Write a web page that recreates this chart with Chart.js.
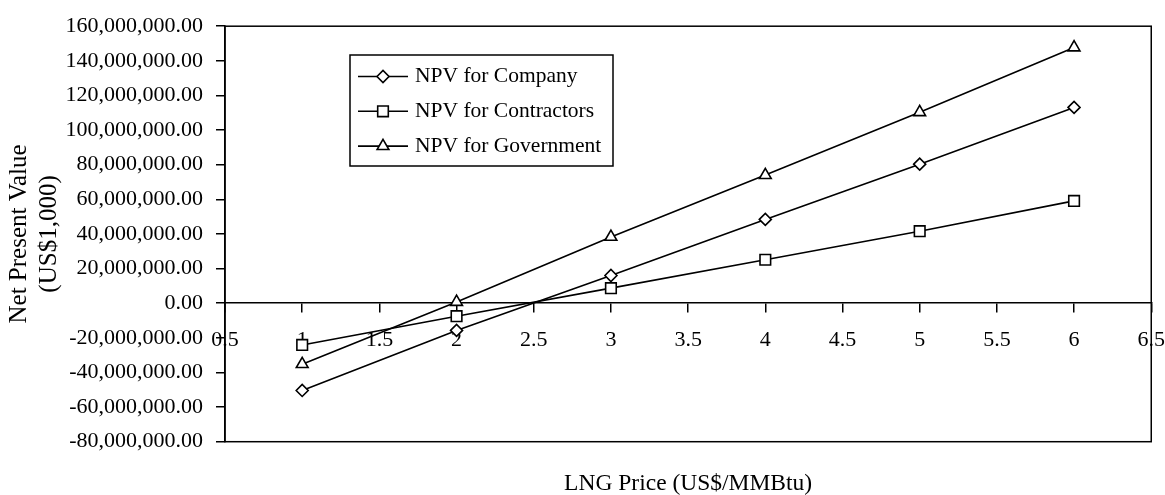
<!DOCTYPE html>
<html>
<head>
<meta charset="utf-8">
<title>Net Present Value vs LNG Price</title>
<script src="https://cdn.jsdelivr.net/npm/chart.js@4/dist/chart.umd.min.js"></script>
<style>
  html, body { margin: 0; padding: 0; background: #ffffff; }
  #wrap { width: 1165px; height: 495px; }
</style>
</head>
<body>
<div id="wrap"><canvas id="npvChart" width="1165" height="495"></canvas></div>
<script>
// LNG price points (US$/MMBtu)
const prices = [1, 2, 3, 4, 5, 6];

// Net present value for each party at each price
const npvCompany     = [-50400000, -15700000, 16000000, 48400000, 80300000, 113100000];
const npvContractors = [-24100000,  -7500000,  8700000, 25100000, 41600000,  59100000];
const npvGovernment  = [-35200000,    700000, 38300000, 74000000, 110300000, 147700000];

const seriesNames = ['NPV for Company', 'NPV for Contractors', 'NPV for Government'];

// Axis tick values
const priceTicks = [0.5, 1, 1.5, 2, 2.5, 3, 3.5, 4, 4.5, 5, 5.5, 6, 6.5];
const npvTicks = [-80000000, -60000000, -40000000, -20000000, 0, 20000000, 40000000,
                  60000000, 80000000, 100000000, 120000000, 140000000, 160000000];

const SERIF = '"Liberation Serif", "Times New Roman", Times, serif';

const toPoints = vals => prices.map((p, i) => ({ x: p, y: vals[i] }));

const markerStyles = [
  { pointStyle: 'rectRot', radius: 6 },
  { pointStyle: 'rect', radius: 7.5 },
  { pointStyle: 'triangle', radius: 6.8 }
];

const datasets = [npvCompany, npvContractors, npvGovernment].map((vals, i) => ({
  label: seriesNames[i],
  data: toPoints(vals),
  borderColor: '#000000',
  borderWidth: 1.6,
  backgroundColor: '#ffffff',
  pointStyle: markerStyles[i].pointStyle,
  pointRadius: markerStyles[i].radius,
  pointBackgroundColor: '#ffffff',
  pointBorderColor: '#000000',
  pointBorderWidth: 1.6,
  tension: 0,
  fill: false
}));

// Frame around the plotting area
const plotFrame = {
  id: 'plotFrame',
  beforeDatasetsDraw(chart) {
    const { ctx, chartArea: a } = chart;
    ctx.save();
    ctx.strokeStyle = '#000000';
    ctx.lineWidth = 1.5;
    ctx.strokeRect(a.left, a.top, a.right - a.left, a.bottom - a.top);
    ctx.restore();
  }
};

// Boxed legend inside the plot: line sample with marker, then the series name
const boxedLegend = {
  id: 'boxedLegend',
  afterDatasetsDraw(chart, args, opts) {
    const { ctx } = chart;
    ctx.save();
    ctx.fillStyle = '#ffffff';
    ctx.fillRect(opts.x, opts.y, opts.w, opts.h);
    ctx.strokeStyle = '#000000';
    ctx.lineWidth = 1.5;
    ctx.strokeRect(opts.x, opts.y, opts.w, opts.h);
    chart.data.datasets.forEach((ds, i) => {
      const cy = opts.firstRow + i * opts.rowGap;
      const x0 = opts.x + opts.sampleInset;
      const x1 = x0 + opts.sampleLength;
      ctx.beginPath();
      ctx.strokeStyle = ds.borderColor;
      ctx.lineWidth = ds.borderWidth;
      ctx.moveTo(x0, cy);
      ctx.lineTo(x1, cy);
      ctx.stroke();
      ctx.fillStyle = ds.pointBackgroundColor;
      ctx.strokeStyle = ds.pointBorderColor;
      ctx.lineWidth = ds.pointBorderWidth;
      const pointOpts = { pointStyle: ds.pointStyle, radius: ds.pointRadius, borderWidth: ds.pointBorderWidth, rotation: 0 };
      Chart.helpers.drawPoint(ctx, pointOpts, (x0 + x1) / 2, cy);
      ctx.fillStyle = '#000000';
      ctx.font = opts.font;
      ctx.textAlign = 'left';
      ctx.textBaseline = 'middle';
      ctx.fillText(ds.label, x1 + opts.textGap, cy);
    });
    ctx.restore();
  }
};

const fmtMoney = v => Number(v).toLocaleString('en-US', { minimumFractionDigits: 2, maximumFractionDigits: 2 });

new Chart(document.getElementById('npvChart'), {
  type: 'line',
  data: { datasets },
  plugins: [plotFrame, boxedLegend],
  options: {
    responsive: false,
    animation: false,
    devicePixelRatio: 1,
    layout: { padding: { left: 0, right: 0, top: 22.5, bottom: 0 } },
    plugins: {
      legend: { display: false },
      tooltip: { enabled: false },
      boxedLegend: {
        x: 350, y: 55, w: 263, h: 111,
        firstRow: 76.5, rowGap: 34.8,
        sampleInset: 8, sampleLength: 50, textGap: 7,
        font: '21.5px ' + SERIF
      }
    },
    scales: {
      x: {
        type: 'linear',
        position: { y: 0 },
        min: 0.5,
        max: 6.5,
        afterBuildTicks: s => { s.ticks = priceTicks.map(v => ({ value: v })); },
        ticks: {
          color: '#000000',
          // tall line box keeps the labels clear of the axis without extra side padding
          font: { family: SERIF, size: 22, lineHeight: 2.55 },
          padding: 0,
          autoSkip: false,
          maxRotation: 0,
          callback: v => String(v)
        },
        grid: { drawOnChartArea: false, drawTicks: true, tickLength: 9, color: '#000000', lineWidth: 1.5 },
        border: { display: true, color: '#000000', width: 1.5 }
      },
      xTitle: {
        type: 'linear',
        position: 'bottom',
        min: 0.5,
        max: 6.5,
        ticks: { display: false },
        grid: { display: false },
        border: { display: false },
        title: {
          display: true,
          text: 'LNG Price (US$/MMBtu)',
          color: '#000000',
          font: { family: SERIF, size: 23.5, lineHeight: 1 },
          padding: { top: 0, bottom: -1 }
        },
        afterFit: s => { s.height = 53.3; }
      },
      y: {
        type: 'linear',
        position: 'left',
        min: -80000000,
        max: 160000000,
        afterBuildTicks: s => { s.ticks = npvTicks.map(v => ({ value: v })); },
        afterFit: s => { s.width = 225; },
        ticks: {
          color: '#000000',
          font: { family: SERIF, size: 22 },
          padding: 13,
          autoSkip: false,
          callback: v => fmtMoney(v)
        },
        grid: { drawOnChartArea: false, drawTicks: true, tickLength: 9, color: '#000000', lineWidth: 1.5 },
        border: { display: true, color: '#000000', width: 1.5 },
        title: {
          display: true,
          text: ['Net Present Value', '(US$1,000)'],
          color: '#000000',
          font: { family: SERIF, size: 25, lineHeight: 1.2 },
          padding: { top: 4, bottom: 0 }
        }
      }
    }
  }
});
</script>
</body>
</html>
